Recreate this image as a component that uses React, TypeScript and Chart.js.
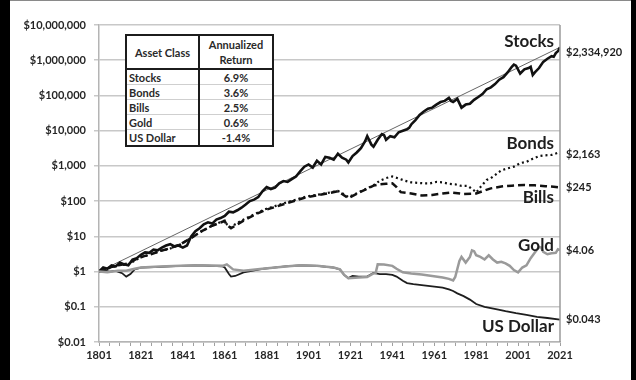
import React, { useEffect, useRef } from 'react';
import { Chart, registerables } from 'chart.js';

Chart.register(...registerables);

const FONT = 'Lato, "Open Sans", "DejaVu Sans", sans-serif';

// ---------- data ----------
const stocksData: [number, number][] = [
  [1801, 1], [1803, 1.3], [1805, 1.2], [1807, 1.5], [1809, 1.4], [1811, 1.8], [1813, 1.6], [1815, 1.5],
  [1817, 2.2], [1819, 2.4], [1821, 3.0], [1823, 3.5], [1825, 3.4], [1827, 4.2], [1829, 4.0], [1831, 4.8],
  [1833, 5.5], [1835, 6.0], [1837, 5.2], [1839, 5.5], [1841, 4.8], [1843, 5.5], [1845, 10], [1847, 14],
  [1849, 17], [1851, 22], [1853, 25], [1855, 23], [1857, 30], [1859, 33], [1861, 38], [1863, 50],
  [1865, 48], [1867, 55], [1869, 65], [1871, 80], [1873, 100], [1875, 110], [1877, 130], [1879, 190],
  [1881, 250], [1883, 220], [1885, 240], [1887, 320], [1889, 370], [1891, 350], [1893, 420], [1895, 500],
  [1897, 700], [1899, 950], [1901, 1100], [1903, 900], [1905, 1400], [1907, 1100], [1909, 1800], [1911, 1700],
  [1913, 1500], [1915, 2200], [1917, 1700], [1919, 1500], [1920, 1250], [1922, 1900], [1924, 2400], [1926, 3200],
  [1928, 5000], [1929, 7000], [1931, 4000], [1932, 3500], [1934, 5500], [1936, 8000], [1937, 7500], [1938, 5500],
  [1940, 7000], [1942, 6500], [1944, 9000], [1946, 10000], [1948, 11000], [1949, 12000], [1950, 15000], [1952, 20000],
  [1954, 28000], [1956, 35000], [1958, 42000], [1960, 45000], [1962, 55000], [1964, 65000], [1966, 70000], [1968, 85000],
  [1969, 70000], [1970, 65000], [1972, 80000], [1974, 45000], [1976, 55000], [1978, 58000], [1980, 75000], [1982, 90000],
  [1984, 110000], [1986, 150000], [1988, 170000], [1990, 210000], [1992, 280000], [1994, 330000], [1996, 450000], [1998, 650000],
  [1999, 750000], [2000, 700000], [2002, 420000], [2004, 550000], [2006, 600000], [2007, 650000], [2008, 380000], [2009, 450000],
  [2011, 600000], [2013, 900000], [2015, 1100000], [2017, 1300000], [2018, 1250000], [2019, 1600000], [2020, 1800000], [2021, 2334920],
];

const bondsData: [number, number][] = [
  [1801, 1], [1805, 1.2], [1810, 1.5], [1815, 1.6], [1820, 2.4], [1825, 3.0], [1830, 3.8], [1835, 4.5],
  [1840, 6], [1845, 9], [1850, 14], [1855, 20], [1860, 27], [1861, 28], [1862, 22], [1864, 18],
  [1866, 22], [1870, 30], [1875, 42], [1880, 58], [1885, 72], [1890, 90], [1895, 110], [1900, 135],
  [1905, 150], [1910, 170], [1915, 195], [1917, 170], [1920, 130], [1923, 155], [1926, 190], [1929, 230],
  [1932, 280], [1935, 380], [1938, 450], [1941, 500], [1944, 440], [1947, 380], [1950, 340], [1953, 330],
  [1956, 320], [1959, 320], [1962, 350], [1965, 340], [1968, 310], [1971, 300], [1974, 270], [1977, 270],
  [1980, 200], [1981, 175], [1983, 250], [1986, 400], [1988, 450], [1990, 550], [1993, 750], [1996, 850],
  [1999, 950], [2002, 1200], [2005, 1300], [2008, 1600], [2011, 1900], [2014, 2000], [2017, 2050], [2020, 2350],
  [2021, 2163],
];

const billsData: [number, number][] = [
  [1801, 1], [1805, 1.25], [1810, 1.5], [1815, 1.7], [1820, 2.5], [1825, 3.0], [1830, 3.8], [1835, 4.6],
  [1840, 6], [1845, 9], [1850, 14], [1855, 20], [1860, 26], [1861, 27], [1862, 21], [1864, 17],
  [1866, 20], [1870, 28], [1875, 40], [1880, 55], [1885, 68], [1890, 85], [1895, 105], [1900, 130],
  [1905, 145], [1910, 165], [1915, 190], [1917, 160], [1920, 120], [1923, 150], [1926, 185], [1929, 225],
  [1932, 275], [1935, 300], [1938, 310], [1941, 320], [1943, 250], [1945, 180], [1950, 165], [1955, 145],
  [1960, 150], [1965, 165], [1969, 175], [1975, 160], [1981, 165], [1985, 200], [1988, 230], [1993, 260],
  [1998, 275], [2004, 285], [2009, 280], [2014, 265], [2018, 255], [2021, 245],
];

const goldData: [number, number][] = [
  [1801, 1], [1805, 0.95], [1810, 1.05], [1814, 1.05], [1818, 1.2], [1821, 1.3], [1830, 1.4], [1840, 1.45],
  [1850, 1.5], [1860, 1.45], [1862, 1.6], [1865, 1.15], [1870, 1.05], [1879, 1.2], [1890, 1.4], [1897, 1.5],
  [1905, 1.45], [1913, 1.3], [1916, 1.15], [1918, 0.8], [1920, 0.65], [1925, 0.68], [1929, 0.7], [1932, 0.88],
  [1933, 0.9], [1934, 1.6], [1937, 1.58], [1941, 1.45], [1943, 1.2], [1946, 0.95], [1950, 0.88], [1955, 0.82],
  [1960, 0.75], [1965, 0.68], [1968, 0.62], [1970, 0.56], [1971, 0.7], [1973, 2.0], [1974, 2.6], [1976, 1.8],
  [1978, 2.6], [1979, 4.0], [1980, 3.8], [1981, 2.9], [1983, 2.6], [1985, 2.2], [1987, 2.9], [1989, 2.2],
  [1991, 1.8], [1993, 1.9], [1995, 1.7], [1997, 1.45], [1999, 1.1], [2001, 0.95], [2003, 1.3], [2005, 1.5],
  [2007, 2.4], [2009, 3.5], [2011, 5.0], [2012, 4.8], [2013, 3.6], [2015, 3.1], [2017, 3.3], [2019, 3.4],
  [2020, 4.3], [2021, 4.06],
];

const dollarData: [number, number][] = [
  [1801, 1], [1803, 1.1], [1806, 1.0], [1809, 1.05], [1812, 0.9], [1814, 0.72], [1816, 0.85], [1818, 1.15],
  [1821, 1.3], [1830, 1.35], [1840, 1.45], [1847, 1.5], [1855, 1.45], [1860, 1.4], [1861, 1.3], [1863, 0.85],
  [1864, 0.72], [1866, 0.75], [1870, 0.95], [1879, 1.2], [1890, 1.4], [1897, 1.5], [1905, 1.45], [1913, 1.3],
  [1916, 1.15], [1918, 0.8], [1920, 0.65], [1922, 0.75], [1925, 0.72], [1929, 0.72], [1932, 0.92], [1935, 0.85],
  [1938, 0.85], [1941, 0.8], [1943, 0.72], [1946, 0.55], [1948, 0.47], [1951, 0.44], [1955, 0.41], [1960, 0.38],
  [1965, 0.35], [1968, 0.31], [1970, 0.28], [1972, 0.24], [1975, 0.2], [1978, 0.16], [1981, 0.12], [1985, 0.1],
  [1991, 0.085], [1995, 0.075], [2000, 0.066], [2005, 0.059], [2010, 0.052], [2015, 0.048], [2021, 0.043],
];

const trendData: [number, number][] = [[1801, 1], [2021, 2334920]];

const seriesNames = ['Stocks', 'Bonds', 'Bills', 'Gold', 'US Dollar'];
const endValueLabels = ['$2,334,920', '$2,163', '$245', '$4.06', '$0.043'];
const annualizedReturns = ['6.9%', '3.6%', '2.5%', '0.6%', '-1.4%'];
const nameAnchorValues = [3400000, 4300, 126, 5.5, 0.027];

const yTickValues = [0.01, 0.1, 1, 10, 100, 1000, 10000, 100000, 1000000, 10000000];
const yTickLabels = ['$0.01', '$0.1', '$1', '$10', '$100', '$1,000', '$10,000', '$100,000', '$1,000,000', '$10,000,000'];
const xTickYears: number[] = [];
for (let yr = 1801; yr <= 2021; yr += 5) xTickYears.push(yr);
const xLabelYears = [1801, 1821, 1841, 1861, 1881, 1901, 1921, 1941, 1961, 1981, 2001, 2021];

const allSeries = [stocksData, bondsData, billsData, goldData, dollarData];

const toXY = (d: [number, number][]) => d.map(([x, y]) => ({ x, y }));

const labelPlugin = {
  id: 'seriesLabels',
  afterDatasetsDraw(chart: any) {
    const { ctx, chartArea, scales } = chart;
    const y = scales.y;
    ctx.save();
    ctx.strokeStyle = '#9a9a9a';
    ctx.lineWidth = 1.5;
    ctx.beginPath();
    ctx.moveTo(chartArea.right, chartArea.top);
    ctx.lineTo(chartArea.right, chartArea.bottom);
    ctx.stroke();

    ctx.fillStyle = '#1e1e1e';
    ctx.textBaseline = 'middle';
    ctx.textAlign = 'right';
    ctx.font = `bold 17px ${FONT}`;
    seriesNames.forEach((n, i) => {
      ctx.fillText(n, chartArea.right - 6, y.getPixelForValue(nameAnchorValues[i]));
    });
    ctx.textAlign = 'left';
    ctx.font = `bold 11px ${FONT}`;
    allSeries.forEach((d, i) => {
      const last = d[d.length - 1];
      ctx.fillText(endValueLabels[i], chartArea.right + 6, y.getPixelForValue(last[1]) + (i === 0 ? 5 : 0));
    });
    ctx.restore();
  },
};

function AssetTable() {
  const border = '#1c1c1c';
  const rows = seriesNames.map((n, i) => (
    <React.Fragment key={n}>
      <div style={{ position: 'absolute', left: 2, top: 34 + i * 15, height: 15, lineHeight: '15px' }}>{n}</div>
      <div style={{ position: 'absolute', left: 73, width: 72, top: 34 + i * 15, height: 15, lineHeight: '15px', textAlign: 'center' }}>
        {annualizedReturns[i]}
      </div>
      {i < 4 && (
        <div style={{ position: 'absolute', left: 0, width: 145, top: 48 + i * 15, height: 1, background: '#cfcfcf' }} />
      )}
    </React.Fragment>
  ));
  return (
    <div
      style={{
        position: 'absolute', left: 115, top: 33, width: 149, height: 113, boxSizing: 'border-box',
        border: `2px solid ${border}`, background: '#fff', fontFamily: FONT, fontWeight: 700, fontSize: 11,
        color: '#2a2a2a',
      }}
    >
      <div style={{ position: 'absolute', left: 0, top: 0, width: 71, height: 32, display: 'flex', alignItems: 'center', justifyContent: 'center' }}>
        Asset Class
      </div>
      <div style={{ position: 'absolute', left: 73, top: 0, width: 72, height: 32, display: 'flex', flexDirection: 'column', alignItems: 'center', justifyContent: 'center', lineHeight: '15px' }}>
        <span>Annualized</span>
        <span>Return</span>
      </div>
      {rows}
      <div style={{ position: 'absolute', left: 71, top: 0, width: 2, height: 109, background: border }} />
      <div style={{ position: 'absolute', left: 0, top: 32, width: 145, height: 2, background: border }} />
    </div>
  );
}

export default function App() {
  const canvasRef = useRef<HTMLCanvasElement | null>(null);

  useEffect(() => {
    document.body.style.margin = '0';
    const canvas = canvasRef.current;
    if (!canvas) return;
    const tickFont = { family: FONT, size: 11, weight: 'bold' as const };
    const chart = new Chart(canvas, {
      type: 'line',
      data: {
        datasets: [
          { label: 'Gold', data: toXY(goldData), borderColor: '#9a9a9a', borderWidth: 2.5, pointRadius: 0 },
          { label: 'US Dollar', data: toXY(dollarData), borderColor: '#1e1e1e', borderWidth: 1.8, pointRadius: 0 },
          { label: 'Bills', data: toXY(billsData), borderColor: '#111', borderWidth: 2.5, borderDash: [7, 4], pointRadius: 0 },
          { label: 'Bonds', data: toXY(bondsData), borderColor: '#111', borderWidth: 2.2, borderDash: [2, 3], pointRadius: 0 },
          { label: 'Stocks', data: toXY(stocksData), borderColor: '#111', borderWidth: 2.6, pointRadius: 0 },
          { label: 'Trend', data: toXY(trendData), borderColor: '#666', borderWidth: 1, pointRadius: 0 },
        ],
      },
      options: {
        animation: false,
        responsive: false,
        maintainAspectRatio: false,
        layout: { padding: { left: 9, right: 71, top: 24, bottom: 8 } },
        plugins: { legend: { display: false }, tooltip: { enabled: false } },
        elements: { line: { tension: 0 } },
        scales: {
          x: {
            type: 'linear',
            min: 1801,
            max: 2021,
            afterBuildTicks: (s: any) => { s.ticks = xTickYears.map((v) => ({ value: v })); },
            afterFit: (s: any) => { s.height = 30; },
            ticks: {
              autoSkip: false,
              maxRotation: 0,
              minRotation: 0,
              padding: 3,
              color: '#262626',
              font: tickFont,
              callback: (v: any) => (xLabelYears.includes(Number(v)) ? String(v) : ''),
            },
            grid: { drawOnChartArea: false, drawTicks: true, tickLength: 4, color: '#a0a0a0', lineWidth: 1 },
            border: { display: true, color: '#b4b4b4', width: 1.5 },
          },
          y: {
            type: 'logarithmic',
            min: 0.01,
            max: 10000000,
            afterBuildTicks: (s: any) => { s.ticks = yTickValues.map((v) => ({ value: v })); },
            afterFit: (s: any) => { s.width = 80; },
            ticks: {
              padding: 8,
              color: '#262626',
              font: tickFont,
              callback: (v: any) => {
                const idx = yTickValues.findIndex((t) => Math.abs(Math.log10(t) - Math.log10(Number(v))) < 1e-6);
                return idx >= 0 ? yTickLabels[idx] : '';
              },
            },
            grid: { color: '#c8c8c8', lineWidth: 1.5, drawTicks: true, tickLength: 5 },
            border: { display: true, color: '#b4b4b4', width: 1.5 },
          },
        },
      },
      plugins: [labelPlugin],
    } as any);
    return () => chart.destroy();
  }, []);

  return (
    <div style={{ position: 'relative', width: 636, height: 380, background: '#000', overflow: 'hidden' }}>
      <div style={{ position: 'absolute', left: 10, top: 0, width: 621, height: 380, background: '#fff', borderTop: '1px solid #8a8a8a', boxSizing: 'border-box' }}>
        <canvas ref={canvasRef} width={621} height={379} style={{ position: 'absolute', left: 0, top: 0, display: 'block' }} />
        <AssetTable />
      </div>
    </div>
  );
}
